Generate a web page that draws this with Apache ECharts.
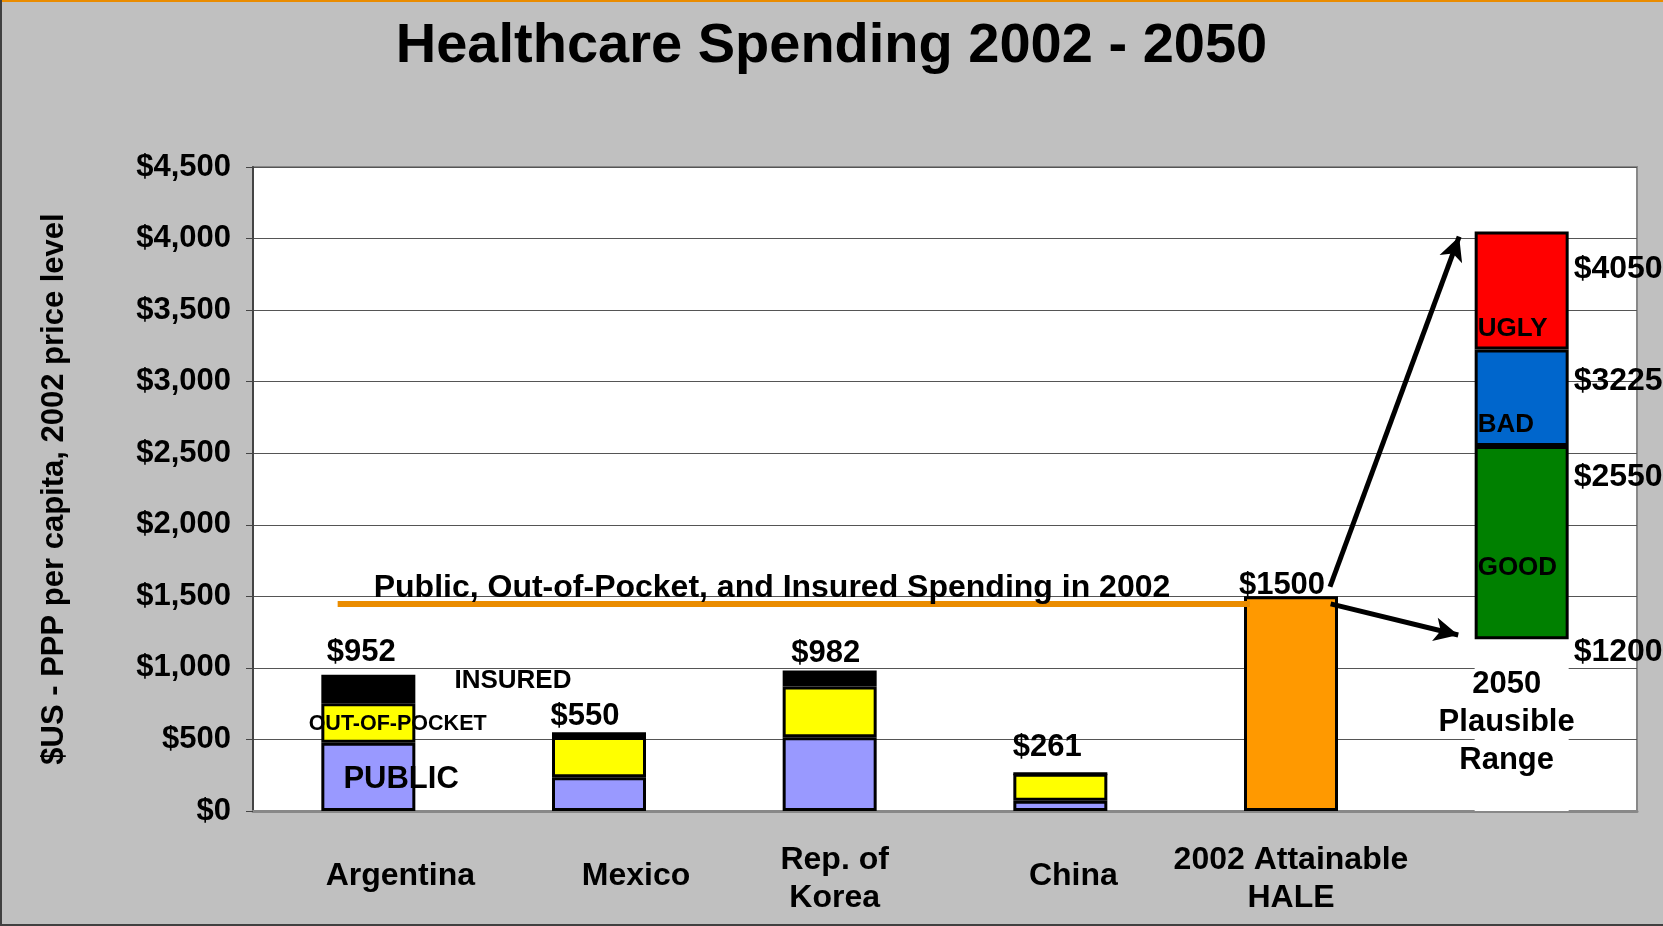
<!DOCTYPE html>
<html>
<head>
<meta charset="utf-8">
<style>
html,body{margin:0;padding:0;background:#C0C0C0;}
#chart{width:1663px;height:926px;}
</style>
<script src="https://cdn.jsdelivr.net/npm/echarts@6/dist/echarts.min.js"></script>
</head>
<body>
<div id="chart"></div>
<script>
// ---------------- data ----------------
const categories = ['Argentina', 'Mexico', 'Rep. of\nKorea', 'China', '2002 Attainable\nHALE', ''];
const publicSpend  = [477, 235, 515, 72];
const outOfPocket  = [276, 282, 355, 189];
const insured      = [199, 33, 112, 0];
const totals2002   = [952, 550, 982, 261];
const haleSpend    = 1500;
const rangeBounds  = [1200, 2550, 3225, 4050];   // 2050 plausible range boundaries
const rangeNames   = ['GOOD', 'BAD', 'UGLY'];
const spending2002Level = 1450;

// ---------------- layout helpers (not data) ----------------
const FONT = 'Liberation Sans, Arial, sans-serif';
const topLabelNudge = [[-7, -2], [-14, 5], [-4, 3], [-13, -4], [-9, 10]];
const catLabelShift = [64, 74, 10, 26, 0, 0];

function at(idx, v) { return categories.map((_, i) => (i === idx ? v : '-')); }
function pad(arr) { return categories.map((_, i) => (i < arr.length ? arr[i] : '-')); }

const barBase = { type: 'bar', stack: 'all', barWidth: 94, xAxisIndex: 0, yAxisIndex: 0 };
const border = { borderColor: '#000', borderWidth: 3 };

const goodVal = rangeBounds[1] - rangeBounds[0];
const badVal  = rangeBounds[2] - rangeBounds[1];
const uglyVal = rangeBounds[3] - rangeBounds[2];

const chart = echarts.init(document.getElementById('chart'));

const option = {
  animation: false,
  backgroundColor: '#C0C0C0',
  textStyle: { fontFamily: FONT },
  title: {
    text: 'Healthcare Spending 2002 - 2050',
    left: 'center',
    top: 14,
    textStyle: { fontSize: 56, fontWeight: 'bold', color: '#000', fontFamily: FONT }
  },
  graphic: [
    { type: 'rect', left: 0, top: 0, shape: { width: 1663, height: 2 }, style: { fill: '#EA8C00' }, silent: true },
    { type: 'rect', left: 0, top: 0, shape: { width: 2, height: 926 }, style: { fill: '#404040' }, silent: true },
    { type: 'rect', left: 0, top: 924, shape: { width: 1663, height: 2 }, style: { fill: '#404040' }, silent: true }
  ],
  grid: {
    left: 253, right: 26, top: 167, bottom: 115,
    outerBoundsMode: 'none', containLabel: false,
    show: true, backgroundColor: '#fff', borderColor: '#888', borderWidth: 2
  },
  xAxis: [
    {
      type: 'category',
      data: categories.map((c, i) => ({
        value: c,
        textStyle: { padding: [c.indexOf('\n') >= 0 ? 0 : 16, 0, 0, catLabelShift[i]] }
      })),
      axisLine: { lineStyle: { color: '#888', width: 3 } },
      axisTick: { show: false },
      axisLabel: {
        interval: 0, fontSize: 32, fontWeight: 'bold', color: '#000', fontFamily: FONT,
        margin: 30, verticalAlign: 'top', lineHeight: 38
      }
    },
    { type: 'value', min: 0, max: 6, show: false }
  ],
  yAxis: {
    type: 'value', min: 0, max: 4500, interval: 500,
    name: '$US - PPP per capita, 2002 price level',
    nameLocation: 'middle', nameGap: 183,
    nameTextStyle: { fontSize: 31, fontWeight: 'bold', color: '#000', fontFamily: FONT },
    axisLine: { show: true, lineStyle: { color: '#444', width: 2 } },
    axisTick: { show: true, length: 7, lineStyle: { color: '#444', width: 1 } },
    axisLabel: {
      fontSize: 31, fontWeight: 'bold', color: '#000', margin: 22, fontFamily: FONT,
      formatter: v => '$' + v.toLocaleString('en-US')
    },
    splitLine: { lineStyle: { color: '#555', width: 1 } }
  },
  series: [
    Object.assign({}, barBase, { name: 'PUBLIC', data: pad(publicSpend), itemStyle: Object.assign({ color: '#9999FF' }, border) }),
    Object.assign({}, barBase, { name: 'OUT-OF-POCKET', data: pad(outOfPocket), itemStyle: Object.assign({ color: '#FFFF00' }, border) }),
    Object.assign({}, barBase, {
      name: 'INSURED',
      data: pad(insured).map((v, i) => v === '-' ? v : {
        value: v,
        label: { offset: topLabelNudge[i] }
      }),
      itemStyle: Object.assign({ color: '#000' }, border),
      label: {
        show: true, position: 'top', distance: 5,
        fontSize: 31, fontWeight: 'bold', color: '#000', fontFamily: FONT,
        formatter: p => '$' + totals2002[p.dataIndex]
      }
    }),
    Object.assign({}, barBase, {
      name: 'HALE',
      data: at(4, { value: haleSpend, label: { offset: topLabelNudge[4] } }),
      itemStyle: Object.assign({ color: '#FF9900' }, border),
      label: {
        show: true, position: 'top', distance: 5,
        fontSize: 31, fontWeight: 'bold', color: '#000', fontFamily: FONT,
        formatter: p => '$' + p.value
      }
    }),
    Object.assign({}, barBase, {
      name: 'base',
      data: at(5, rangeBounds[0]),
      itemStyle: { color: '#fff', borderWidth: 0 },
      label: {
        show: true, position: [32, 26], align: 'center', verticalAlign: 'top',
        fontSize: 31, fontWeight: 'bold', color: '#000', lineHeight: 38, fontFamily: FONT,
        formatter: '2050\nPlausible\nRange'
      }
    }),
    Object.assign({}, barBase, {
      name: rangeNames[0],
      data: at(5, goodVal),
      itemStyle: Object.assign({ color: '#008000' }, border),
      label: { show: true, position: [3, 122], align: 'left', verticalAlign: 'middle',
        fontSize: 26, fontWeight: 'bold', color: '#000', fontFamily: FONT, formatter: rangeNames[0] }
    }),
    Object.assign({}, barBase, {
      name: rangeNames[1],
      data: at(5, badVal),
      itemStyle: Object.assign({ color: '#0066CC' }, border),
      label: { show: true, position: [3, 75], align: 'left', verticalAlign: 'middle',
        fontSize: 26, fontWeight: 'bold', color: '#000', fontFamily: FONT, formatter: rangeNames[1] }
    }),
    Object.assign({}, barBase, {
      name: rangeNames[2],
      data: at(5, uglyVal),
      itemStyle: Object.assign({ color: '#FF0000' }, border),
      label: { show: true, position: [3, 97], align: 'left', verticalAlign: 'middle',
        fontSize: 26, fontWeight: 'bold', color: '#000', fontFamily: FONT, formatter: rangeNames[2] }
    }),
    {
      name: 'annotations',
      type: 'scatter',
      xAxisIndex: 1, yAxisIndex: 0,
      data: [],
      z: 10,
      silent: true,
      markLine: {
        silent: true,
        animation: false,
        label: { show: false },
        emphasis: { disabled: true },
        data: [
          [
            { coord: [0.367, spending2002Level], symbol: 'none', lineStyle: { color: '#EA8C00', width: 6, type: 'solid' } },
            { coord: [4.322, spending2002Level], symbol: 'none' }
          ],
          [
            { coord: [4.669, 1567], symbol: 'none', lineStyle: { color: '#000', width: 5, type: 'solid' } },
            { coord: [5.229, rangeBounds[3] - 37], symbol: 'arrow', symbolSize: [18, 24] }
          ],
          [
            { coord: [4.672, haleSpend - 53], symbol: 'none', lineStyle: { color: '#000', width: 5, type: 'solid' } },
            { coord: [5.225, rangeBounds[0] + 30], symbol: 'arrow', symbolSize: [18, 24] }
          ]
        ]
      },
      markPoint: {
        symbol: 'circle', symbolSize: 0,
        silent: true,
        label: { show: true, position: 'inside', fontWeight: 'bold', color: '#000', fontFamily: FONT },
        data: [
          { coord: [2.25, 1554], label: { formatter: 'Public, Out-of-Pocket, and Insured Spending in 2002', fontSize: 32, align: 'center', verticalAlign: 'middle' } },
          { coord: [1.127, 907], label: { formatter: 'INSURED', fontSize: 26, align: 'center', verticalAlign: 'middle' } },
          { coord: [0.627, 607], label: { formatter: 'OUT-OF-POCKET', fontSize: 21.5, align: 'center', verticalAlign: 'middle' } },
          { coord: [0.642, 220], label: { formatter: 'PUBLIC', fontSize: 31, align: 'center', verticalAlign: 'middle' } },
          { coord: [5.5, rangeBounds[3]], label: { formatter: '$' + rangeBounds[3], fontSize: 32, align: 'left', verticalAlign: 'middle', offset: [52, 38] } },
          { coord: [5.5, rangeBounds[2]], label: { formatter: '$' + rangeBounds[2], fontSize: 32, align: 'left', verticalAlign: 'middle', offset: [52, 32] } },
          { coord: [5.5, rangeBounds[1]], label: { formatter: '$' + rangeBounds[1], fontSize: 32, align: 'left', verticalAlign: 'middle', offset: [52, 31] } },
          { coord: [5.5, rangeBounds[0]], label: { formatter: '$' + rangeBounds[0], fontSize: 32, align: 'left', verticalAlign: 'middle', offset: [52, 13] } }
        ]
      }
    }
  ]
};

chart.setOption(option);
</script>
</body>
</html>
